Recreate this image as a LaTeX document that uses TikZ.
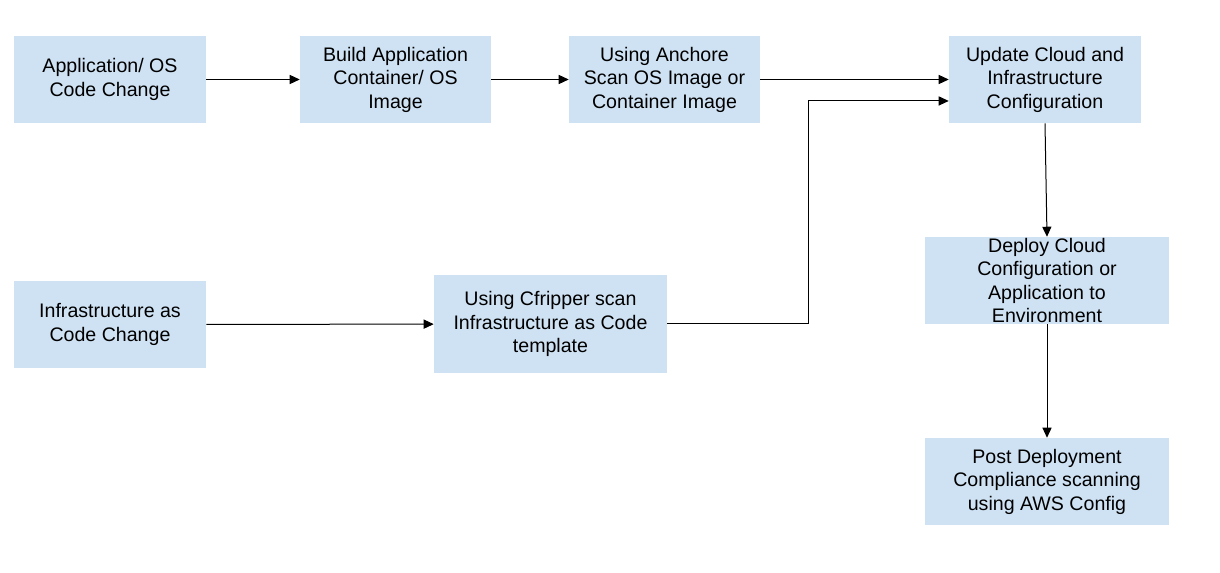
\documentclass[tikz,border=0pt]{standalone}
\usepackage{fontspec}
\setmainfont{Liberation Sans}
\usepackage{tikz}
\usetikzlibrary{arrows.meta}
\definecolor{boxblue}{RGB}{207,226,243}

\begin{document}
\begin{tikzpicture}[x=0.75pt, y=-0.75pt,
    box/.style={fill=boxblue, align=center, inner sep=0pt,
        font=\fontsize{14.7}{17.6}\selectfont,
        minimum width=144pt, minimum height=65.25pt},
    wide/.style={box, minimum width=183pt},
    arr/.style={-{Triangle[length=7.5pt, width=6.8pt]}, line width=0.75pt}]
    \useasboundingbox (0, 0) rectangle (1220, 573);
    % top row
    \node[box] (appchange) at (110, 79.5) {Application/ OS\\Code Change};
    \node[box, minimum width=143.25pt] (build) at (395.5, 79.5) {Build Application\\Container/ OS\\Image};
    \node[box, minimum width=143.25pt] (anchore) at (664.5, 79.5) {Using Anchore\\Scan OS Image or\\Container Image};
    \node[box] (update) at (1045, 79.5) {Update Cloud and\\Infrastructure\\Configuration};
    % right column
    \node[wide] (deploy) at (1047, 280.5) {Deploy Cloud\\Configuration or\\Application to\\Environment};
    \node[wide] (post) at (1047, 481.5) {Post Deployment\\Compliance scanning\\using AWS Config};
    % infrastructure row
    \node[box] (iacchange) at (110, 324.5) {Infrastructure as\\Code Change};
    \node[box, minimum width=174.75pt, minimum height=73.5pt] (cfripper) at (550.5, 324) {Using Cfripper scan\\Infrastructure as Code\\template};
    \coordinate (turn) at (808, 324);

    \draw[arr] (appchange) -- (build);
    \draw[arr] (build) -- (anchore);
    \draw[arr] (anchore) -- (update);
    \draw[arr] (iacchange) -- (cfripper);
    \draw[arr] (cfripper.east) -- (turn) |- ([yshift=-16.1pt]update.west);
    \draw[arr] (update.south) -- (deploy.north);
    \draw[arr] (deploy) -- (post);
\end{tikzpicture}
\end{document}
